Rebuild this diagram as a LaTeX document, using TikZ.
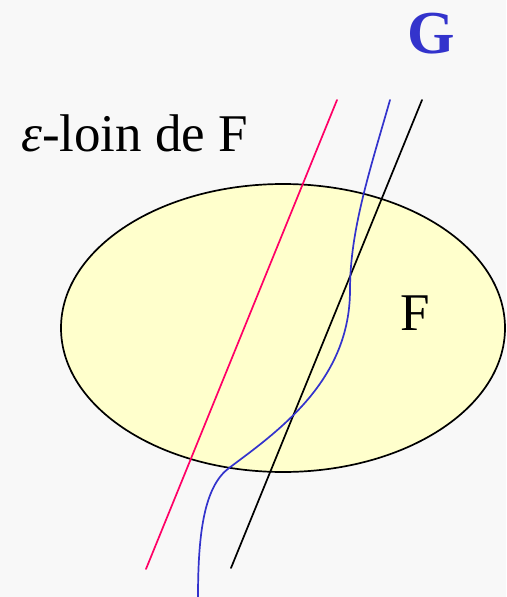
\documentclass[tikz,border=0pt]{standalone}
\usepackage{fontspec}
\setmainfont{Liberation Serif}
\usepackage{tikz}
\definecolor{paper}{HTML}{F8F8F8}
\definecolor{cream}{HTML}{FFFFCC}
\definecolor{crimson}{HTML}{FF0066}
\definecolor{royal}{HTML}{3333CC}

\begin{document}
\begin{tikzpicture}[
  x=1pt, y=-1pt,
  every node/.style={inner sep=0pt, anchor=base west},
  big/.style={font=\fontsize{53}{53}\selectfont},
  strand/.style={line width=1.7pt, line cap=round},
  rim/.style={line width=1.7pt, draw=black, fill=cream}
]
  \fill[paper] (0,0) rectangle (506,597);
  \useasboundingbox (0,0) rectangle (506,597);

  % the set F
  \draw[rim] (283,328) ellipse [x radius=222, y radius=144];
  \node[big] (fset) at (400,330) {F};

  % the neighbourhood label and G
  \node[big] (far) at (21,151) {{\itshape ε}-loin de F};
  \node[font=\fontsize{61}{61}\selectfont\bfseries, text=royal] (gset) at (407,53) {G};

  % the two straight bounds and the curve between them
  \coordinate (redtop) at (337,100);
  \coordinate (redend) at (146,569);
  \coordinate (blktop) at (422,100);
  \coordinate (blkend) at (231,568);
  \draw[strand, crimson] (redtop) -- (redend);
  \draw[strand, black] (blktop) -- (blkend);
  \draw[strand, royal] (390,100) .. controls (370,170) and (350,230) .. (350,290)
    .. controls (350,380) and (280,430) .. (229,468)
    .. controls (205,486) and (198,530) .. (198,597);
\end{tikzpicture}
\end{document}
